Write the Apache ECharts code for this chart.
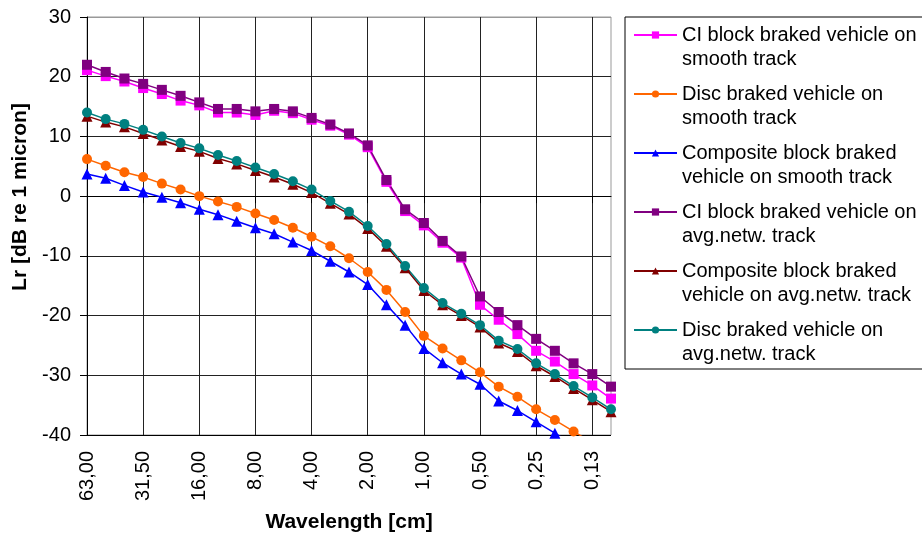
<!DOCTYPE html>
<html>
<head>
<meta charset="utf-8">
<title>Lr vs wavelength</title>
<script src="https://cdn.jsdelivr.net/npm/echarts@6/dist/echarts.min.js"></script>
<style>
  html, body { margin: 0; padding: 0; background: #fff; }
  #chart { width: 922px; height: 536px; }
</style>
</head>
<body>
<div id="chart"></div>
<script>
// one-third octave wavelength bands [cm]
const wavelengths = ["63,00", "50,00", "40,00", "31,50", "25,00", "20,00", "16,00", "12,50", "10,00",
  "8,00", "6,30", "5,00", "4,00", "3,15", "2,50", "2,00", "1,60", "1,25", "1,00",
  "0,80", "0,63", "0,50", "0,40", "0,32", "0,25", "0,20", "0,16", "0,13", "0,10"];

// Lr [dB re 1 micron]
const ciSmooth = [21.1, 20.1, 19.2, 18.1, 17.1, 16.0, 15.2, 14.0, 14.0, 13.6, 14.3, 13.9, 12.8, 11.8, 10.3,
  8.2, 2.4, -2.5, -4.9, -7.8, -10.3, -18.2, -20.7, -23.1, -25.9, -27.7, -29.8, -31.7, -33.9];
const discSmooth = [6.2, 5.1, 4.0, 3.2, 2.1, 1.1, 0.0, -0.9, -1.8, -2.9, -4.0, -5.3, -6.8, -8.4, -10.4,
  -12.7, -15.7, -19.4, -23.4, -25.5, -27.5, -29.5, -31.9, -33.6, -35.7, -37.5, -39.4, -41.3, -43.2];
const compSmooth = [3.7, 3.0, 1.8, 0.7, -0.2, -1.1, -2.2, -3.1, -4.2, -5.3, -6.3, -7.7, -9.1, -10.9, -12.7,
  -14.8, -18.2, -21.6, -25.5, -27.9, -29.8, -31.5, -34.3, -35.9, -37.8, -39.7, -41.6, -43.5, -45.4];
const ciAvg = [22.0, 20.8, 19.7, 18.8, 17.8, 16.8, 15.7, 14.6, 14.6, 14.2, 14.6, 14.2, 13.1, 12.0, 10.5,
  8.5, 2.7, -2.2, -4.5, -7.5, -10.1, -16.8, -19.4, -21.6, -23.9, -25.9, -28.0, -29.8, -31.9];
const compAvg = [13.4, 12.4, 11.6, 10.5, 9.4, 8.3, 7.5, 6.3, 5.4, 4.3, 3.2, 2.0, 0.6, -1.2, -3.0,
  -5.4, -8.4, -12.0, -15.8, -18.2, -20.0, -21.9, -24.6, -26.0, -28.4, -30.2, -32.2, -34.1, -36.1];
const discAvg = [14.0, 12.9, 12.1, 11.1, 10.0, 8.9, 8.0, 6.9, 5.9, 4.8, 3.7, 2.5, 1.1, -0.8, -2.6,
  -5.0, -8.0, -11.7, -15.4, -17.9, -19.7, -21.6, -24.2, -25.6, -28.0, -29.8, -31.8, -33.7, -35.7];

const font = "Liberation Sans";

function lineSeries(name, data, color, symbol, size) {
  return {
    name: name,
    type: "line",
    data: data,
    symbol: symbol,
    symbolSize: size,
    showSymbol: true,
    lineStyle: { color: color, width: 1.5 },
    itemStyle: { color: color }
  };
}

const chart = echarts.init(document.getElementById("chart"));
chart.setOption({
  animation: false,
  backgroundColor: "#fff",
  grid: {
    left: 87, right: 311, top: 17, bottom: 101,
    outerBoundsMode: "none",
    show: true, borderColor: "#999", borderWidth: 1
  },
  legend: {
    orient: "vertical",
    left: 625,
    top: 17,
    padding: [-18, 30, 3, 8],
    itemGap: -13,
    itemWidth: 43,
    itemHeight: 9,
    borderColor: "#000",
    borderWidth: 1,
    // empty first line keeps the icon level with the first text line
    formatter: function (name) { return "\n" + name; },
    textStyle: { fontFamily: font, fontSize: 20, color: "#000", lineHeight: 24 }
  },
  xAxis: {
    type: "category",
    data: wavelengths,
    boundaryGap: false,
    axisLine: { lineStyle: { color: "#000", width: 1 } },
    axisTick: { interval: 2, length: 7, lineStyle: { color: "#000" } },
    axisLabel: { interval: 2, rotate: 90, margin: 16, fontFamily: font, fontSize: 20, color: "#000" },
    splitLine: { show: true, interval: 2, lineStyle: { color: "#222", width: 1 } },
    name: "Wavelength [cm]",
    nameLocation: "middle",
    nameGap: 77,
    nameTextStyle: { fontFamily: font, fontSize: 21, fontWeight: "bold", color: "#000" }
  },
  yAxis: {
    type: "value",
    min: -40,
    max: 30,
    interval: 10,
    axisLine: { show: true, lineStyle: { color: "#000", width: 1 } },
    axisTick: { show: true, length: 7, lineStyle: { color: "#000" } },
    axisLabel: { margin: 16, fontFamily: font, fontSize: 20, color: "#000" },
    splitLine: {
      show: true,
      lineStyle: { color: ["#000", "#222", "#222", "#222", "#222", "#222", "#222", "#999"], width: 1 }
    }
  },
  graphic: [{
    type: "text",
    x: 20,
    y: 197,
    rotation: Math.PI / 2,
    style: {
      text: "Lr [dB re 1 micron]",
      fill: "#000",
      font: "bold 21px 'Liberation Sans'",
      align: "center",
      verticalAlign: "middle"
    }
  }],
  series: [
    lineSeries("CI block braked vehicle on\nsmooth track", ciSmooth, "#FF00FF", "rect", 10),
    lineSeries("Disc braked vehicle on\nsmooth track", discSmooth, "#FF6600", "circle", 10),
    lineSeries("Composite block braked\nvehicle on smooth track", compSmooth, "#0000FF", "triangle", 11),
    lineSeries("CI block braked vehicle on\navg.netw. track", ciAvg, "#800080", "rect", 10),
    lineSeries("Composite block braked\nvehicle on avg.netw. track", compAvg, "#800000", "triangle", 11),
    lineSeries("Disc braked vehicle on\navg.netw. track", discAvg, "#008080", "circle", 10)
  ]
});
</script>
</body>
</html>
